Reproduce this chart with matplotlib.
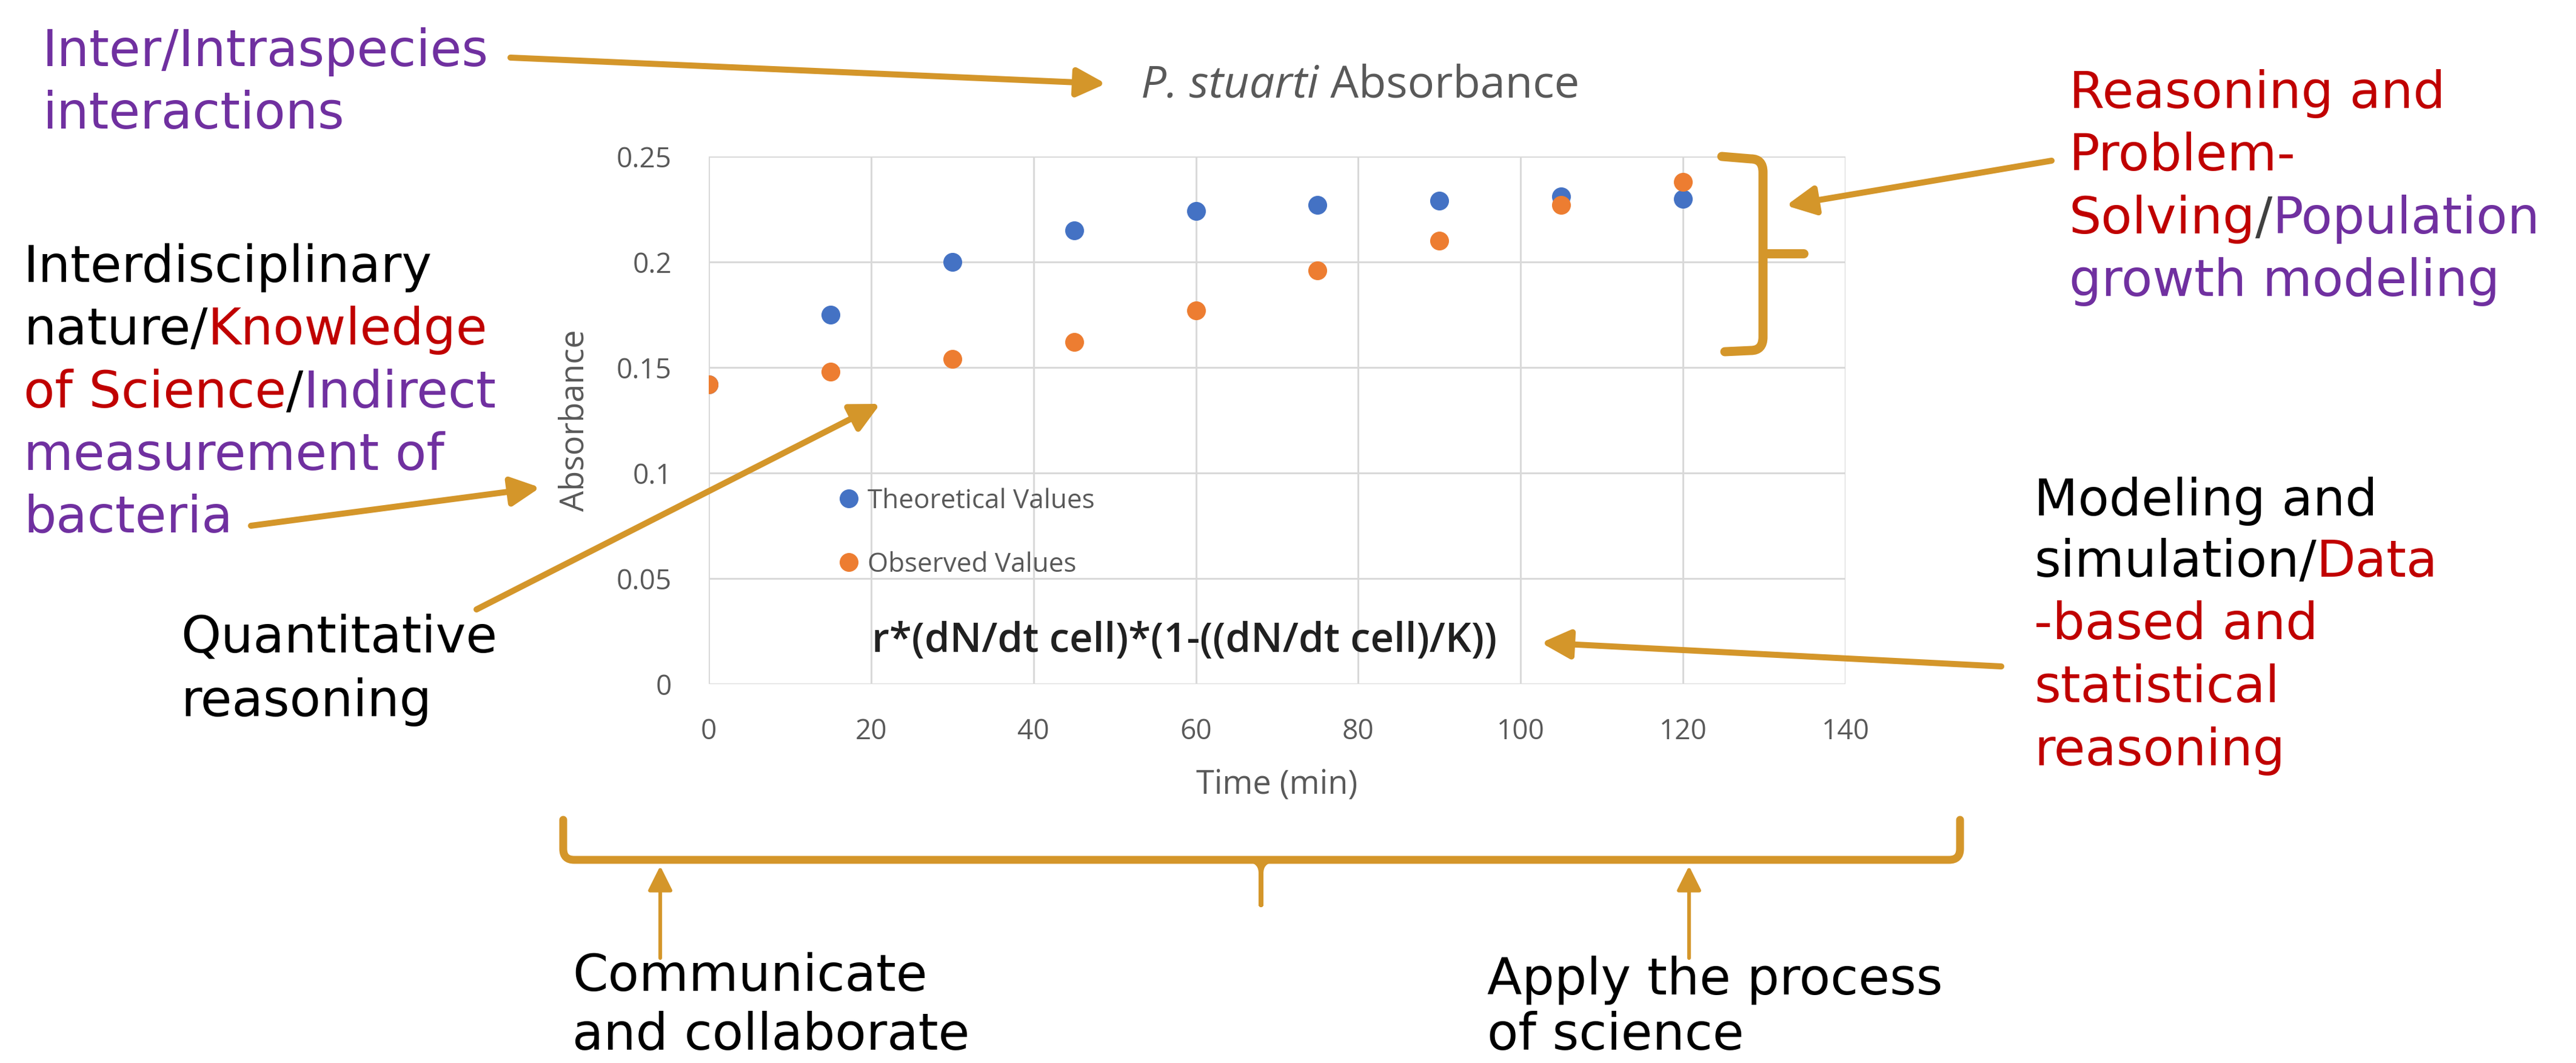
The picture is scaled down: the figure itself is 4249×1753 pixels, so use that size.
import matplotlib
matplotlib.use("Agg")
import matplotlib.pyplot as plt
from matplotlib.path import Path
from matplotlib.patches import PathPatch

# data
time_min = [0, 15, 30, 45, 60, 75, 90, 105, 120]
theoretical = [0.142, 0.175, 0.200, 0.215, 0.224, 0.227, 0.229, 0.231, 0.230]
observed = [0.142, 0.148, 0.154, 0.162, 0.177, 0.196, 0.210, 0.227, 0.238]
x_ticks = [0, 20, 40, 60, 80, 100, 120, 140]
y_ticks = [0, 0.05, 0.1, 0.15, 0.2, 0.25]
y_tick_labels = ["0", "0.05", "0.1", "0.15", "0.2", "0.25"]

W, H = 4249, 1753
DPI = 72
GOLD = "#D4962A"
PURPLE = "#7030A0"
RED = "#C00000"
BLACK = "#000000"
GRAY = "#595959"
CHART_FONT = "Open Sans"
NOTE_FONT = "DejaVu Sans"
NOTE_SIZE = 84

fig = plt.figure(figsize=(W / DPI, H / DPI), dpi=DPI)
fig.patch.set_facecolor("white")

# ---- the Excel style scatter chart ----
ax = fig.add_axes([1169 / W, 1 - 1128 / H, 1875 / W, 870 / H])
ax.plot(time_min, theoretical, "o", ls="none", color="#4472C4", ms=30,
        label="Theoretical Values", zorder=3)
ax.plot(time_min, observed, "o", ls="none", color="#ED7D31", ms=30,
        label="Observed Values", zorder=4)
ax.set_xlim(0, 140)
ax.set_ylim(0, 0.25)
ax.set_xticks(x_ticks)
ax.set_yticks(y_ticks)
ax.set_yticklabels(y_tick_labels)
ax.grid(True, color="#D9D9D9", lw=3)
ax.set_axisbelow(True)
for s in ax.spines.values():
    s.set_visible(False)
ax.tick_params(axis="both", length=0, labelsize=46, labelcolor=GRAY)
ax.tick_params(axis="y", pad=61)
ax.tick_params(axis="x", pad=56)
for lab in ax.get_xticklabels() + ax.get_yticklabels():
    lab.set_family(CHART_FONT)

ax.set_xlabel("Time (min)", fontsize=54, color=GRAY, family=CHART_FONT)
ax.xaxis.set_label_coords(0.5, -0.16)
ax.set_ylabel("Absorbance", fontsize=54, color=GRAY, family=CHART_FONT, va="center")
ax.yaxis.set_label_coords(-0.118, 0.5)

leg = ax.legend(loc="upper left", bbox_to_anchor=(0.115, 0.372), frameon=False,
                fontsize=44, handlelength=0.7, handletextpad=0.35,
                labelspacing=1.37, borderpad=0, borderaxespad=0)
for t in leg.get_texts():
    t.set_color(GRAY)
    t.set_family(CHART_FONT)

ax.text(20.1, 0.0152, "r*(dN/dt cell)*(1-((dN/dt cell)/K))", fontsize=67,
        family=CHART_FONT, weight="semibold", color="#202020", va="baseline")

# ---- overlay in pixel coordinates for the notes ----
ov = fig.add_axes([0, 0, 1, 1], zorder=10)
ov.set_xlim(0, W)
ov.set_ylim(H, 0)
ov.axis("off")
ov.patch.set_alpha(0)

renderer = fig.canvas.get_renderer()


def line_parts(x, y, parts, size=NOTE_SIZE, family=NOTE_FONT):
    for p in parts:
        s, c = p[0], p[1]
        style = p[2] if len(p) > 2 else "normal"
        t = ov.text(x, y, s, color=c, fontsize=size, family=family,
                    style=style, va="baseline", ha="left")
        x = t.get_window_extent(renderer=renderer).x1


def block(x, baselines, lines):
    for y, parts in zip(baselines, lines):
        line_parts(x, y, parts)


# title of the chart
line_parts(1882, 160, [("P. stuarti", GRAY, "italic"), (" Absorbance", GRAY)],
           size=74, family=CHART_FONT)

block(70, [109, 212], [[("Inter/Intraspecies", PURPLE)], [("interactions", PURPLE)]])
block(39, [465, 568, 672, 775, 878], [
    [("Interdisciplinary", BLACK)],
    [("nature/", BLACK), ("Knowledge", RED)],
    [("of Science", RED), ("/", BLACK), ("Indirect", PURPLE)],
    [("measurement of", PURPLE)],
    [("bacteria", PURPLE)],
])
block(298, [1075, 1181], [[("Quantitative", BLACK)], [("reasoning", BLACK)]])
block(3355, [850, 951, 1054, 1158, 1262], [
    [("Modeling and", BLACK)],
    [("simulation/", BLACK), ("Data", RED)],
    [("-based and", RED)],
    [("statistical", RED)],
    [("reasoning", RED)],
])
block(3413, [178, 281, 385, 488], [
    [("Reasoning and", RED)],
    [("Problem-", RED)],
    [("Solving", RED), ("/", "#404040"), ("Population", PURPLE)],
    [("growth modeling", PURPLE)],
])
block(944, [1634, 1731], [[("Communicate", BLACK)], [("and collaborate", BLACK)]])
block(2453, [1640, 1731], [[("Apply the process", BLACK)], [("of science", BLACK)]])


# arrows
def arrow(tail, head, lw=10, scale=40):
    ov.annotate("", xy=head, xytext=tail,
                arrowprops=dict(arrowstyle="-|>,head_length=1.0,head_width=0.5",
                                color=GOLD, lw=lw, mutation_scale=scale,
                                shrinkA=0, shrinkB=0))


arrow((842, 95), (1824, 138))
arrow((414, 867), (891, 804))
arrow((786, 1005), (1452, 666))
arrow((3301, 1099), (2542, 1060))
arrow((3384, 265), (2946, 339))
arrow((1089, 1580), (1089, 1428), lw=6, scale=34)
arrow((2786, 1580), (2786, 1428), lw=6, scale=34)

# right brace
M, L, C = Path.MOVETO, Path.LINETO, Path.CURVE3
brace = Path([(2840, 258), (2888, 262), (2908, 262), (2908, 284),
              (2908, 556), (2908, 578), (2888, 578), (2845, 580)],
             [M, L, C, C, L, C, C, L])
ov.add_patch(PathPatch(brace, fill=False, ec=GOLD, lw=15, capstyle="round",
                       joinstyle="round"))
ov.plot([2908, 2975], [418, 418], color=GOLD, lw=15, solid_capstyle="round")

# bottom brace, with a tapered middle point
bottom = Path([(929, 1352), (929, 1400), (929, 1418), (947, 1418),
               (3215, 1418), (3233, 1418), (3233, 1400), (3233, 1352)],
              [M, L, C, C, L, C, C, L])
ov.add_patch(PathPatch(bottom, fill=False, ec=GOLD, lw=13, capstyle="round",
                       joinstyle="round"))
tip = Path([(2062, 1418), (2080, 1422), (2080, 1440), (2080, 1492),
            (2080, 1440), (2080, 1422), (2098, 1418), (2062, 1418)],
           [M, C, C, L, L, C, C, Path.CLOSEPOLY])
ov.add_patch(PathPatch(tip, fc=GOLD, ec=GOLD, lw=8, joinstyle="round"))

fig.savefig("out.png", dpi=DPI, facecolor="white")
